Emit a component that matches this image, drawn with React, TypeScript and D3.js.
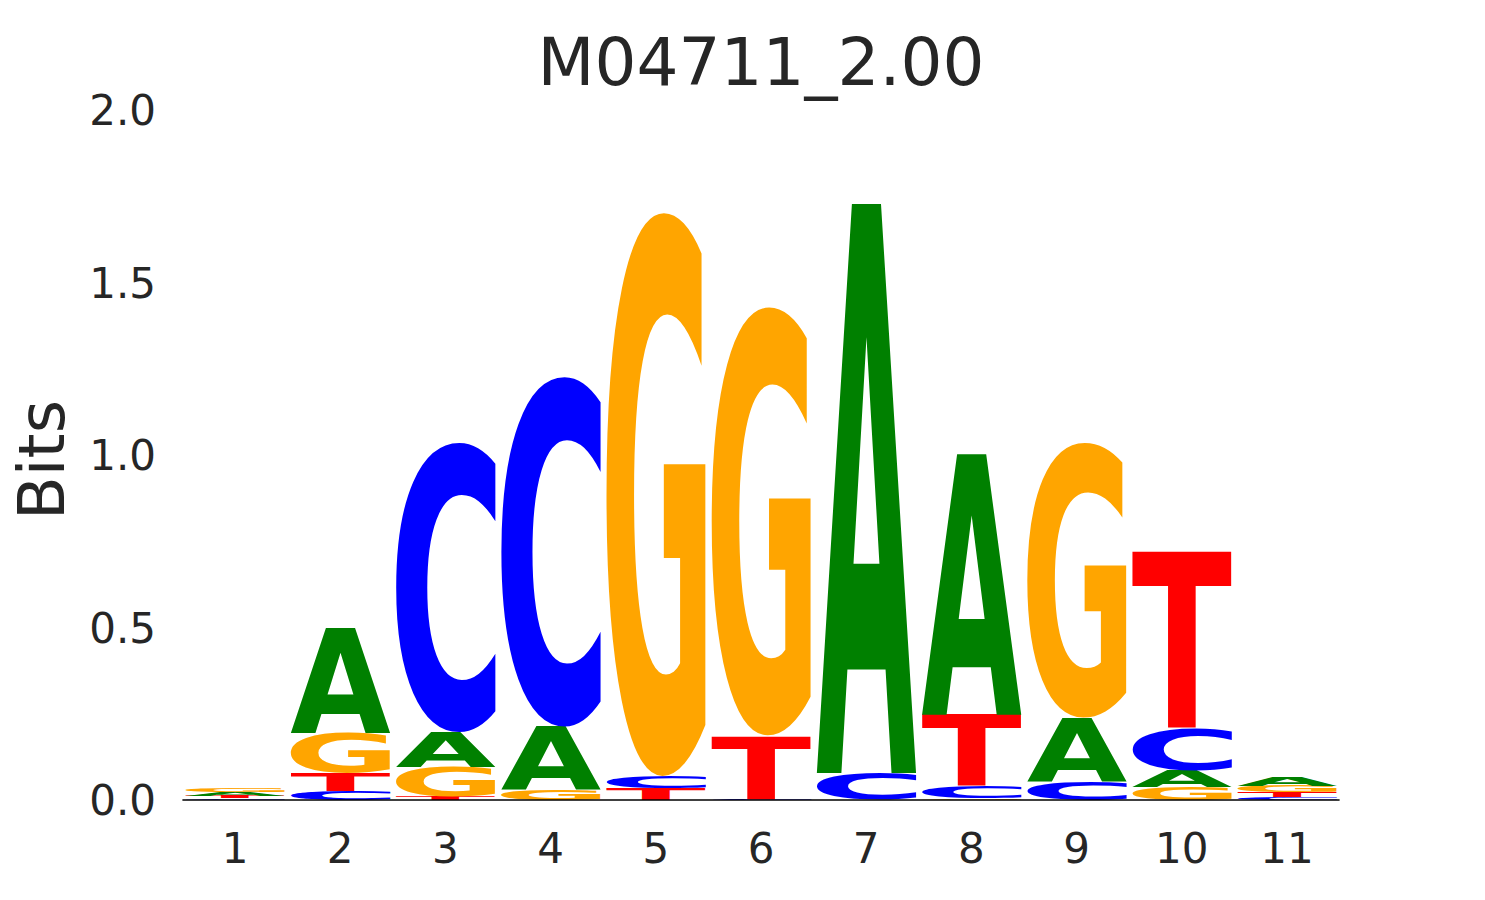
import React, { useMemo } from "react";
import * as d3 from "d3";

const title = "M04711_2.00";
const positions = [1, 2, 3, 4, 5, 6, 7, 8, 9, 10, 11];
const bases = ["A", "C", "G", "T"];
const valuesA = [0.011, 0.304, 0.1, 0.183, 0.0, 0.001, 1.652, 0.756, 0.185, 0.048, 0.025];
const valuesC = [0.005, 0.026, 0.842, 1.017, 0.035, 0.002, 0.078, 0.034, 0.053, 0.122, 0.009];
const valuesG = [0.012, 0.116, 0.087, 0.029, 1.639, 1.246, 0.0, 0.005, 0.8, 0.038, 0.019];
const valuesT = [0.008, 0.052, 0.009, 0.0, 0.033, 0.183, 0.0, 0.208, 0.0, 0.514, 0.013];
const yTicks = [0, 0.5, 1, 1.5, 2];
const yTickLabels = ["0.0", "0.5", "1.0", "1.5", "2.0"];
const colors: Record<string, string> = { A: "#008000", C: "#0000ff", G: "#ffa500", T: "#ff0000" };

const FONT = "DejaVu Sans";
const FS = 200;

export default function App() {
  const W = 1485, H = 900;
  const x = d3.scaleLinear().domain([0.5, 11.5]).range([182.4, 1339.6]);
  const y = d3.scaleLinear().domain([0, 2]).range([800, 110]);
  const step = x(2) - x(1);
  const lw = step * 0.95;

  const metrics = useMemo(() => {
    const c = document.createElement("canvas");
    const ctx = c.getContext("2d")!;
    ctx.font = `bold ${FS}px '${FONT}'`;
    const m: Record<string, { l: number; r: number; a: number; d: number }> = {};
    for (const b of bases) {
      const t = ctx.measureText(b);
      m[b] = {
        l: t.actualBoundingBoxLeft,
        r: t.actualBoundingBoxRight,
        a: t.actualBoundingBoxAscent,
        d: t.actualBoundingBoxDescent,
      };
    }
    return m;
  }, []);

  const cols = [valuesA, valuesC, valuesG, valuesT];
  const glyphs: React.ReactNode[] = [];
  positions.forEach((p, i) => {
    const items = bases.map((b, k) => ({ b, v: cols[k][i] })).filter((d) => d.v > 0);
    items.sort((a, b) => a.v - b.v);
    let floor = 0;
    items.forEach((it) => {
      const top = floor + it.v;
      const x0 = x(p) - lw / 2;
      const y0 = y(top);
      const h = y(floor) - y(top);
      const mm = metrics[it.b];
      const sx = lw / (mm.l + mm.r);
      const sy = h / (mm.a + mm.d);
      glyphs.push(
        <text
          key={`${p}-${it.b}`}
          x={0}
          y={0}
          fontFamily={FONT}
          fontWeight="bold"
          fontSize={FS}
          fill={colors[it.b]}
          transform={`translate(${x0 + mm.l * sx},${y0 + mm.a * sy}) scale(${sx},${sy})`}
        >
          {it.b}
        </text>
      );
      floor = top;
    });
  });

  return (
    <svg width={W} height={H} style={{ position: "absolute", left: 0, top: 0, background: "#fff" }}>
      <text x={761} y={85} textAnchor="middle" fontFamily={FONT} fontSize={66} fill="#262626">
        {title}
      </text>
      {glyphs}
      <line x1={x(0.5)} x2={x(11.5)} y1={y(0)} y2={y(0)} stroke="#000" strokeWidth={1.5} />
      {yTicks.map((t, i) => (
        <text key={t} x={156} y={y(t) + 15} textAnchor="end" fontFamily={FONT} fontSize={42} fill="#262626">
          {yTickLabels[i]}
        </text>
      ))}
      {positions.map((p) => (
        <text key={p} x={x(p)} y={863} textAnchor="middle" fontFamily={FONT} fontSize={42} fill="#262626">
          {p}
        </text>
      ))}
      <text transform="translate(64,460) rotate(-90)" textAnchor="middle" fontFamily={FONT} fontSize={64} fill="#262626">
        Bits
      </text>
    </svg>
  );
}
